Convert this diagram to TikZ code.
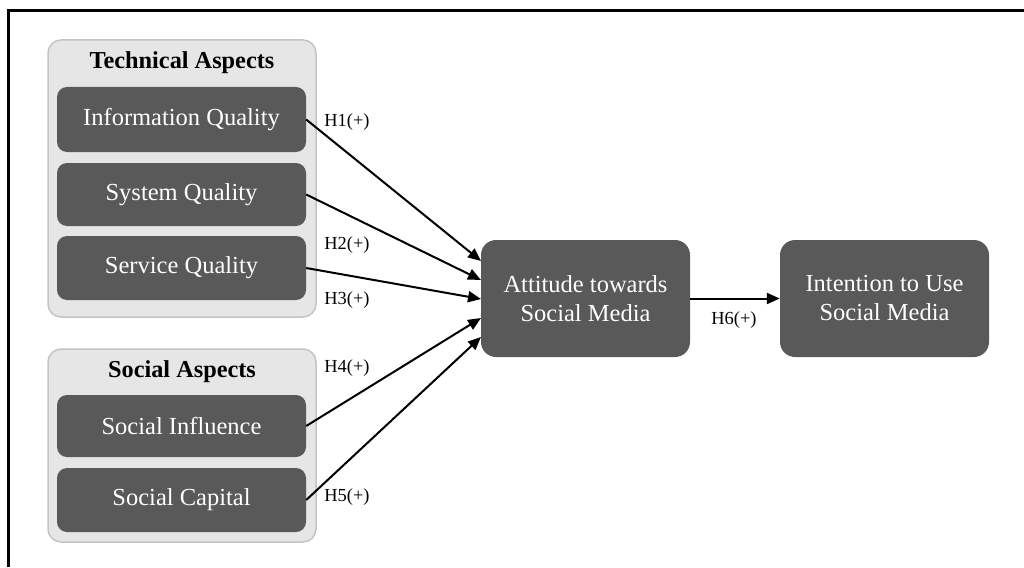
\documentclass[tikz,border=0pt]{standalone}
\usepackage{fontspec}
\setmainfont{Liberation Serif}
\usetikzlibrary{arrows.meta}
\definecolor{boxfill}{HTML}{595959}
\definecolor{groupfill}{HTML}{E6E6E6}
\definecolor{groupline}{HTML}{C4C4C4}
\tikzset{
  groupbox/.style={draw=groupline, fill=groupfill, line width=1.5pt, rounded corners=13pt},
  factor/.style={fill=boxfill, rounded corners=10pt, text=white, inner sep=0pt,
    font=\fontsize{24.5}{29}\selectfont, align=center},
  construct/.style={fill=boxfill, rounded corners=15pt, text=white, inner sep=0pt,
    font=\fontsize{24.5}{29}\selectfont, align=center, minimum width=209pt, minimum height=117pt},
  heading/.style={font=\fontsize{24.3}{29}\selectfont\bfseries, inner sep=0pt},
  hyp/.style={font=\fontsize{18.4}{22}\selectfont, inner sep=0pt},
  arr/.style={line width=2pt, -{Triangle[length=13pt,width=11pt]}},
  frameline/.style={line width=2.6pt}
}
\begin{document}
\begin{tikzpicture}[x=1pt,y=-1pt]
  \useasboundingbox (0,0) rectangle (1024,567);

  % partial outer frame (top and left edges)
  \coordinate (ftr) at (1024,10.5);
  \coordinate (ftl) at (8.5,10.5);
  \coordinate (fbl) at (8.5,567);
  \draw[frameline] (ftr) -- (ftl) -- (fbl);

  % technical aspects group
  \node[groupbox, minimum width=268pt, minimum height=277pt] (tech) at (182,178.5) {};
  \node[heading] (techt) at (182,63) {Technical Aspects};
  \node[factor, minimum width=249pt, minimum height=65pt] (iq) at (181.5,119.5) {Information Quality};
  \node[factor, minimum width=249pt, minimum height=63pt] (sq) at (181.5,194.5) {System Quality};
  \node[factor, minimum width=249pt, minimum height=64pt] (svq) at (181.5,268) {Service Quality};

  % social aspects group
  \node[groupbox, minimum width=268pt, minimum height=193pt] (soc) at (182,445.5) {};
  \node[heading] (soct) at (182,372) {Social Aspects};
  \node[factor, minimum width=249pt, minimum height=62pt] (si) at (181.5,426) {Social Influence};
  \node[factor, minimum width=249pt, minimum height=64pt] (sc) at (181.5,500) {Social Capital};

  % outcome constructs
  \node[construct] (att) at (585.5,298.5) {Attitude towards\\Social Media};
  \node[construct] (int) at (884.5,298.5) {Intention to Use\\Social Media};

  % arrow targets along the left side of the attitude box
  \coordinate (t1) at (481,261);
  \coordinate (t2) at (481,280);
  \coordinate (t3) at (481,299);
  \coordinate (t4) at (481,318);
  \coordinate (t5) at (481,337);

  \draw[arr] (iq.east) -- (t1);
  \draw[arr] (sq.east) -- (t2);
  \draw[arr] (svq.east) -- (t3);
  \draw[arr] (si.east) -- (t4);
  \draw[arr] (sc.east) -- (t5);
  \draw[arr] (att.east) -- (int.west);

  % hypothesis labels
  \node[hyp] (h1) at (347,122) {H1(+)};
  \node[hyp] (h2) at (347,245) {H2(+)};
  \node[hyp] (h3) at (347,300) {H3(+)};
  \node[hyp] (h4) at (347,368) {H4(+)};
  \node[hyp] (h5) at (347,497) {H5(+)};
  \node[hyp] (h6) at (734,320) {H6(+)};
\end{tikzpicture}
\end{document}
